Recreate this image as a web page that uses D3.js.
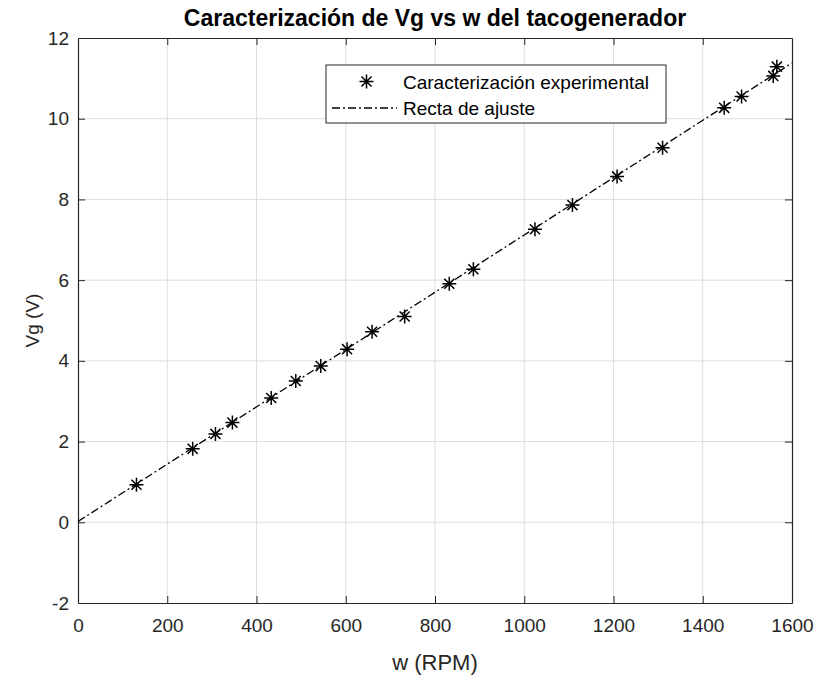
<!DOCTYPE html>
<html>
<head>
<meta charset="utf-8">
<script src="https://cdn.jsdelivr.net/npm/d3@7"></script>
<style>
  body { margin: 0; background: #fff; }
  svg { display: block; font-family: "Liberation Sans", Arial, Helvetica, sans-serif; }
</style>
</head>
<body>
<div id="chart"></div>
<script>
// measured points (w in RPM, Vg in V)
const wRPM = [131, 257, 308, 346, 433, 488, 544, 603, 659, 732, 832, 886, 1024, 1108, 1208, 1310, 1448, 1487, 1558, 1566];
const vgV  = [0.93, 1.82, 2.19, 2.47, 3.08, 3.50, 3.87, 4.29, 4.72, 5.10, 5.91, 6.27, 7.26, 7.86, 8.57, 9.28, 10.27, 10.55, 11.06, 11.29];

// linear fit Vg = slope*w + intercept
const fitSlope = 0.0071;
const fitIntercept = 0.02;

const xTicks = [0, 200, 400, 600, 800, 1000, 1200, 1400, 1600];
const yTicks = [-2, 0, 2, 4, 6, 8, 10, 12];

const titleText = "Caracterización de Vg vs w del tacogenerador";
const xLabel = "w (RPM)";
const yLabel = "Vg (V)";
const legendLabels = ["Caracterización experimental", "Recta de ajuste"];

const width = 818, height = 675;
const margin = { left: 78, right: 26, top: 38, bottom: 72 };
const axisColor = "#262626";

const svg = d3.select("#chart").append("svg")
    .attr("width", width)
    .attr("height", height);

const x = d3.scaleLinear().domain([0, 1600]).range([margin.left, width - margin.right]);
const y = d3.scaleLinear().domain([-2, 12]).range([height - margin.bottom, margin.top]);

// grid
const grid = svg.append("g");
grid.selectAll(".gx").data(xTicks.slice(1, -1)).enter().append("line")
    .attr("x1", d => x(d)).attr("x2", d => x(d))
    .attr("y1", y(-2)).attr("y2", y(12))
    .style("stroke", "#dedede").style("stroke-width", 1);
grid.selectAll(".gy").data(yTicks.slice(1, -1)).enter().append("line")
    .attr("x1", x(0)).attr("x2", x(1600))
    .attr("y1", d => y(d)).attr("y2", d => y(d))
    .style("stroke", "#dedede").style("stroke-width", 1);

// axes (inward ticks on all sides, MATLAB box style)
const tickLen = 7;
const fmt = d => String(d);
const xAxisB = svg.append("g").attr("transform", `translate(0,${y(-2)})`)
    .call(d3.axisBottom(x).tickValues(xTicks).tickFormat(fmt).tickSizeInner(-tickLen).tickSizeOuter(0).tickPadding(16));
const xAxisT = svg.append("g").attr("transform", `translate(0,${y(12)})`)
    .call(d3.axisTop(x).tickValues(xTicks).tickSizeInner(-tickLen).tickSizeOuter(0).tickFormat(""));
const yAxisL = svg.append("g").attr("transform", `translate(${x(0)},0)`)
    .call(d3.axisLeft(y).tickValues(yTicks).tickFormat(fmt).tickSizeInner(-tickLen).tickSizeOuter(0).tickPadding(9));
const yAxisR = svg.append("g").attr("transform", `translate(${x(1600)},0)`)
    .call(d3.axisRight(y).tickValues(yTicks).tickSizeInner(-tickLen).tickSizeOuter(0).tickFormat(""));

[xAxisB, xAxisT, yAxisL, yAxisR].forEach(g => {
    g.select(".domain").style("stroke", axisColor).style("stroke-width", 1.2);
    g.selectAll(".tick line").style("stroke", axisColor);
    g.selectAll("text").style("fill", axisColor).style("font-size", "19px").attr("font-family", null);
});
// hide ticks at the corners
[xAxisB, xAxisT].forEach(g => g.selectAll(".tick line").filter(d => d === 0 || d === 1600).remove());
[yAxisL, yAxisR].forEach(g => g.selectAll(".tick line").filter(d => d === -2 || d === 12).remove());

// fit line
const fitLine = d3.line().x(d => x(d)).y(d => y(fitSlope * d + fitIntercept));
svg.append("path")
    .datum(x.domain())
    .attr("d", fitLine)
    .style("fill", "none")
    .style("stroke", "#000")
    .style("stroke-width", 1.3)
    .style("stroke-dasharray", "8,3,2,3");

// asterisk marker
function asterisk(g, cx, cy, r) {
    const d = r * 0.72;
    const p = `M${cx - r},${cy}L${cx + r},${cy}M${cx},${cy - r}L${cx},${cy + r}` +
              `M${cx - d},${cy - d}L${cx + d},${cy + d}M${cx - d},${cy + d}L${cx + d},${cy - d}`;
    g.append("path").attr("d", p).style("stroke", "#000").style("stroke-width", 1.5).style("fill", "none");
}

const pts = svg.append("g");
wRPM.forEach((w, i) => asterisk(pts, x(w), y(vgV[i]), 7));

// legend
const legend = svg.append("g");
legend.append("rect")
    .attr("x", 326).attr("y", 65).attr("width", 340).attr("height", 58)
    .style("fill", "#fff").style("stroke", axisColor).style("stroke-width", 1);
asterisk(legend, 366.5, 81.5, 7);
legend.append("line")
    .attr("x1", 332).attr("x2", 397).attr("y1", 108).attr("y2", 108)
    .style("stroke", "#000").style("stroke-width", 1.3).style("stroke-dasharray", "8,3,2,3");
legend.selectAll(".lt").data(legendLabels).enter().append("text")
    .attr("x", 403)
    .attr("y", (d, i) => 82 + i * 26.5)
    .attr("dominant-baseline", "central")
    .style("font-size", "19px")
    .style("fill", "#000")
    .text(d => d);

// title and labels
svg.append("text")
    .attr("x", (x(0) + x(1600)) / 2).attr("y", 26)
    .attr("text-anchor", "middle")
    .style("font-size", "23px").style("font-weight", "bold").style("fill", "#000")
    .text(titleText);
svg.append("text")
    .attr("x", (x(0) + x(1600)) / 2).attr("y", 670)
    .attr("text-anchor", "middle")
    .style("font-size", "22px").style("fill", axisColor)
    .text(xLabel);
svg.append("text")
    .attr("transform", `translate(39,${(y(-2) + y(12)) / 2}) rotate(-90)`)
    .attr("text-anchor", "middle")
    .style("font-size", "19px").style("fill", axisColor)
    .text(yLabel);
</script>
</body>
</html>
